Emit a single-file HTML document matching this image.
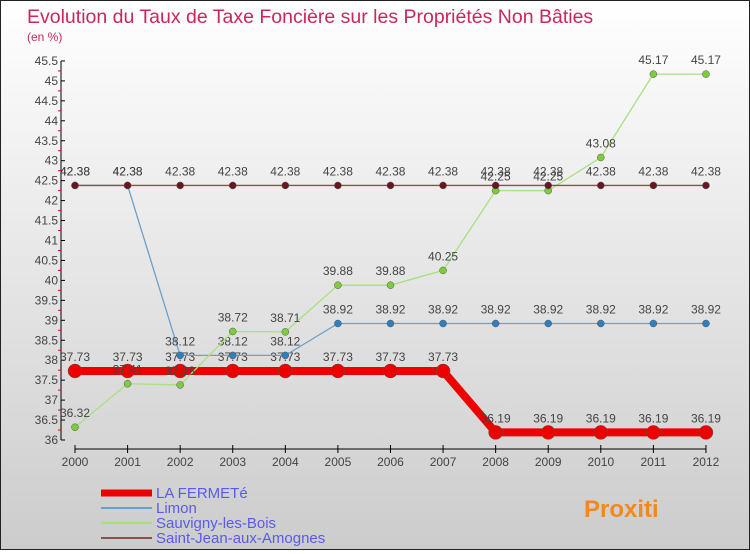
<!DOCTYPE html>
<html><head><meta charset="utf-8"><style>
body{margin:0}
#c{width:748px;height:548px;border:1px solid #222;background:linear-gradient(#fff,#ccc);position:relative;font-family:"Liberation Sans",sans-serif}
</style></head><body>
<div id="c">
<svg id="s" width="748" height="548"></svg>
</div>
<script>
const years=[2000,2001,2002,2003,2004,2005,2006,2007,2008,2009,2010,2011,2012];
const laFerme=[37.73,37.73,37.73,37.73,37.73,37.73,37.73,37.73,36.19,36.19,36.19,36.19,36.19];
const limon=[42.38,42.38,38.12,38.12,38.12,38.92,38.92,38.92,38.92,38.92,38.92,38.92,38.92];
const sauvigny=[36.32,37.41,37.38,38.72,38.71,39.88,39.88,40.25,42.25,42.25,43.08,45.17,45.17];
const saintJean=[42.38,42.38,42.38,42.38,42.38,42.38,42.38,42.38,42.38,42.38,42.38,42.38,42.38];
const yTicks=[36,36.5,37,37.5,38,38.5,39,39.5,40,40.5,41,41.5,42,42.5,43,43.5,44,44.5,45,45.5];
const NS='http://www.w3.org/2000/svg';const s=document.getElementById('s');
const X=i=>74+i*52.58, Y=v=>439-(v-36)*39.9;
function el(t,a,p){const e=document.createElementNS(NS,t);for(const k in a)e.setAttribute(k,a[k]);(p||s).appendChild(e);return e;}
let t=el('text',{x:26,y:22,fill:'#c8285a','font-size':19.5});t.textContent='Evolution du Taux de Taxe Foncière sur les Propriétés Non Bâties';

t=el('text',{x:26,y:40,fill:'#c8285a','font-size':12});t.textContent='(en %)';

let ax=el('g',{stroke:'#000'});
el('line',{x1:60,y1:Y(45.5),x2:60,y2:Y(36)},ax);
el('line',{x1:X(0),y1:448,x2:X(12),y2:448},ax);
yTicks.forEach(v=>{el('line',{x1:60,x2:64,y1:Y(v),y2:Y(v)},ax);
 if(v<45.5)el('line',{x1:57,x2:60,y1:Y(v+0.25),y2:Y(v+0.25),stroke:'#e00'},ax);
 const tt=el('text',{x:57,y:Y(v)+4,'text-anchor':'end','font-size':12,fill:'#444',stroke:'none'});tt.textContent=v;
 });
years.forEach((y,i)=>{el('line',{x1:X(i),x2:X(i),y1:444,y2:452},ax);
 const tt=el('text',{x:X(i),y:465,'text-anchor':'middle','font-size':12,fill:'#444',stroke:'none'});tt.textContent=y;
 });
function series(d,col,w,r,name,dot){const g=el('g',{});
 el('polyline',{points:d.map((v,i)=>X(i)+','+Y(v)).join(' '),fill:'none',stroke:col,'stroke-width':w},g);
 d.forEach((v,i)=>{const c=el('circle',{cx:X(i),cy:Y(v),r:r,fill:dot,stroke:'#555','stroke-width':0.5},g);
  
  const tt=el('text',{x:X(i),y:Y(v)-10,'text-anchor':'middle','font-size':12,fill:'#444'},g);tt.textContent=v;
  });}
series(laFerme,'#e00',8,7,'la-ferme','#e00');
series(limon,'#6aa0cc',1.3,3.5,'limon','#2e7fc0');
series(sauvigny,'#a8e080',1.3,3.5,'sauvigny','#7ccc3c');
series(saintJean,'#8a5050',1.3,3.5,'saint-jean','#6a1520');
const leg=[['LA FERMETé','#e00',7],['Limon','#6aa0cc',2],['Sauvigny-les-Bois','#a8e080',2],['Saint-Jean-aux-Amognes','#8a5050',2]];
leg.forEach((l,i)=>{const g=el('g',{});
 const y=492+i*15;el('line',{x1:100,x2:151,y1:y,y2:y,stroke:l[1],'stroke-width':l[2]},g);
 const tt=el('text',{x:155,y:y+5,'font-size':15,fill:'#5a5aee'},g);tt.textContent=l[0];});
t=el('text',{x:583,y:516,'font-size':24,'font-weight':'bold',fill:'#f08a20'});t.textContent='Proxiti';

</script></body></html>
